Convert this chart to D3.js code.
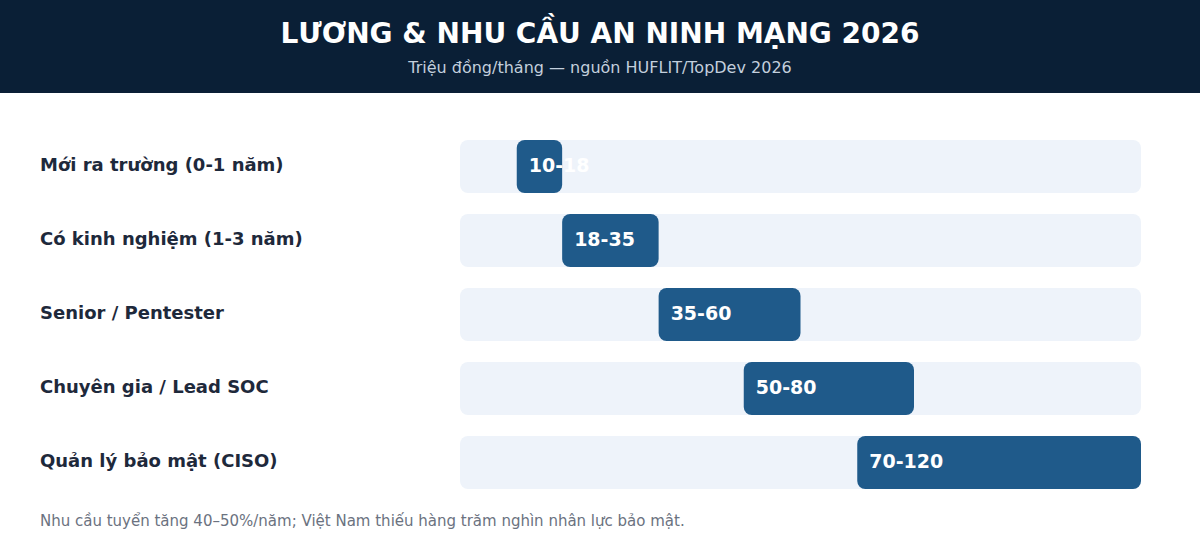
<!DOCTYPE html>
<html>
<head>
<meta charset="utf-8">
<script src="https://cdn.jsdelivr.net/npm/d3@7"></script>
<style>
  body { margin: 0; background: #fff; }
  svg { display: block; font-family: "DejaVu Sans", sans-serif; }
</style>
</head>
<body>
<div id="chart"></div>
<script>
// salary ranges, million VND / month
const roles = ["Mới ra trường (0-1 năm)", "Có kinh nghiệm (1-3 năm)", "Senior / Pentester", "Chuyên gia / Lead SOC", "Quản lý bảo mật (CISO)"];
const salaryMin = [10, 18, 35, 50, 70];
const salaryMax = [18, 35, 60, 80, 120];
const rangeLabels = ["10-18", "18-35", "35-60", "50-80", "70-120"];

const width = 1200, height = 560;
const data = roles.map((r, i) => ({ role: r, lo: salaryMin[i], hi: salaryMax[i], label: rangeLabels[i] }));

const svg = d3.select("#chart").append("svg")
    .attr("width", width)
    .attr("height", height);

// header band
svg.append("rect")
    .attr("x", 0).attr("y", 0)
    .attr("width", width).attr("height", 93)
    .attr("fill", "#0a1f36");

svg.append("text")
    .attr("x", width / 2).attr("y", 43)
    .attr("text-anchor", "middle")
    .attr("fill", "#ffffff")
    .style("font-size", "28px")
    .style("font-weight", "bold")
    .text("LƯƠNG & NHU CẦU AN NINH MẠNG 2026");

svg.append("text")
    .attr("x", width / 2).attr("y", 73)
    .attr("text-anchor", "middle")
    .attr("fill", "#c3cfdd")
    .style("font-size", "16px")
    .text("Triệu đồng/tháng — nguồn HUFLIT/TopDev 2026");

const x = d3.scaleLinear().domain([0, 120]).range([460, 1141]);
const y = d3.scaleBand().domain(roles).range([140, 489]).paddingInner(21 / 74).paddingOuter(0);

const row = svg.selectAll(".row")
    .data(data)
    .join("g")
    .attr("class", "row");

row.append("rect")
    .attr("x", x(0))
    .attr("y", d => y(d.role))
    .attr("width", x(120) - x(0))
    .attr("height", y.bandwidth())
    .attr("rx", 8)
    .attr("fill", "#eef3fa");

row.append("rect")
    .attr("x", d => x(d.lo))
    .attr("y", d => y(d.role))
    .attr("width", d => x(d.hi) - x(d.lo))
    .attr("height", y.bandwidth())
    .attr("rx", 8)
    .attr("fill", "#1f5a8a");

row.append("text")
    .attr("x", d => x(d.lo) + 12)
    .attr("y", d => y(d.role) + y.bandwidth() / 2 - 1)
    .attr("dy", "0.35em")
    .attr("fill", "#ffffff")
    .style("font-size", "19px")
    .style("font-weight", "bold")
    .text(d => d.label);

row.append("text")
    .attr("x", 40)
    .attr("y", d => y(d.role) + y.bandwidth() / 2 - 2)
    .attr("dy", "0.35em")
    .attr("fill", "#1e293b")
    .style("font-size", "18px")
    .style("font-weight", "bold")
    .text(d => d.role);

svg.append("text")
    .attr("x", 40).attr("y", 526)
    .attr("fill", "#6b7280")
    .style("font-size", "15px")
    .text("Nhu cầu tuyển tăng 40–50%/năm; Việt Nam thiếu hàng trăm nghìn nhân lực bảo mật.");
</script>
</body>
</html>
